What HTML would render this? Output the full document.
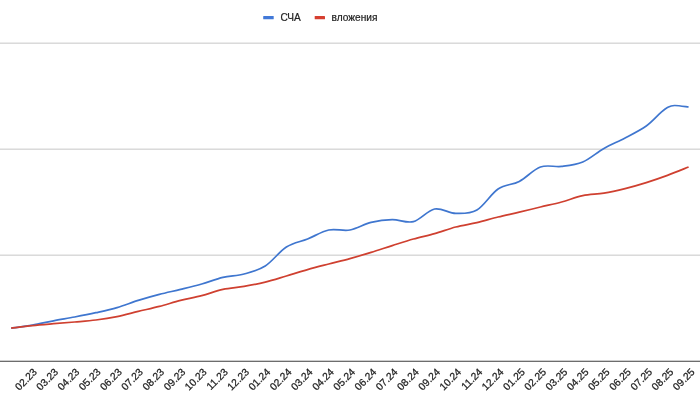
<!DOCTYPE html>
<html><head><meta charset="utf-8"><title>chart</title>
<style>
html,body{margin:0;padding:0;background:#fff;}
body{width:700px;height:402px;overflow:hidden;}
svg{display:block;will-change:transform;font-family:"Liberation Sans",Arial,sans-serif;font-size:10px;fill:#222;}
</style></head><body>
<svg width="700" height="402" viewBox="0 0 700 402">
<rect width="700" height="402" fill="#fff"/>
<g stroke="#c6c6c6" stroke-width="1">
<line x1="0" y1="43.15" x2="700" y2="43.15"/>
<line x1="0" y1="149.15" x2="700" y2="149.15"/>
<line x1="0" y1="255.15" x2="700" y2="255.15"/>
</g>
<line x1="0" y1="361.3" x2="700" y2="361.3" stroke="#3c3c3c" stroke-width="1.1"/>
<path d="M11.20 328.20 C14.73 327.68 25.31 326.33 32.37 325.10 C39.42 323.87 46.48 322.15 53.54 320.80 C60.59 319.45 67.65 318.35 74.71 317.00 C81.76 315.65 88.82 314.27 95.88 312.70 C102.93 311.13 109.99 309.65 117.04 307.60 C124.10 305.55 131.16 302.60 138.21 300.40 C145.27 298.20 152.32 296.23 159.38 294.40 C166.44 292.57 173.49 291.13 180.55 289.40 C187.61 287.67 194.66 286.00 201.72 284.00 C208.77 282.00 215.83 279.07 222.89 277.40 C229.94 275.73 237.00 275.90 244.06 274.00 C251.11 272.10 258.17 270.50 265.22 266.00 C272.28 261.50 279.34 251.50 286.39 247.00 C293.45 242.50 300.51 241.83 307.56 239.00 C314.62 236.17 321.68 231.50 328.73 230.00 C335.79 228.50 342.84 231.27 349.90 230.00 C356.96 228.73 364.01 224.13 371.07 222.40 C378.12 220.67 385.18 219.73 392.24 219.60 C399.29 219.47 406.35 223.37 413.41 221.60 C420.46 219.83 427.52 210.37 434.57 209.00 C441.63 207.63 448.69 213.23 455.74 213.40 C462.80 213.57 469.86 214.07 476.91 210.00 C483.97 205.93 491.02 193.77 498.08 189.00 C505.14 184.23 512.19 185.07 519.25 181.40 C526.31 177.73 533.36 169.50 540.42 167.00 C547.48 164.50 554.53 167.23 561.59 166.40 C568.64 165.57 575.70 165.00 582.76 162.00 C589.81 159.00 596.87 152.40 603.93 148.40 C610.98 144.40 618.04 141.73 625.09 138.00 C632.15 134.27 640.36 130.18 646.26 126.00 C652.16 121.82 656.97 115.97 660.50 112.90 C664.03 109.83 665.10 108.83 667.43 107.60 C669.76 106.37 670.97 105.60 674.50 105.50 C678.03 105.40 686.25 106.75 688.60 107.00" fill="none" stroke="#3f76cf" stroke-width="1.7" stroke-linecap="butt" stroke-linejoin="round"/>
<path d="M11.20 328.20 C14.73 327.77 25.31 326.35 32.37 325.60 C39.42 324.85 46.48 324.30 53.54 323.70 C60.59 323.10 67.65 322.62 74.71 322.00 C81.76 321.38 88.82 320.90 95.88 320.00 C102.93 319.10 109.99 318.03 117.04 316.60 C124.10 315.17 131.16 313.10 138.21 311.40 C145.27 309.70 152.32 308.23 159.38 306.40 C166.44 304.57 173.49 302.20 180.55 300.40 C187.61 298.60 194.66 297.43 201.72 295.60 C208.77 293.77 215.83 290.93 222.89 289.40 C229.94 287.87 237.00 287.60 244.06 286.40 C251.11 285.20 258.17 283.93 265.22 282.20 C272.28 280.47 279.34 278.10 286.39 276.00 C293.45 273.90 300.51 271.60 307.56 269.60 C314.62 267.60 321.68 265.83 328.73 264.00 C335.79 262.17 342.84 260.53 349.90 258.60 C356.96 256.67 364.01 254.57 371.07 252.40 C378.12 250.23 385.18 247.83 392.24 245.60 C399.29 243.37 406.35 241.00 413.41 239.00 C420.46 237.00 427.52 235.60 434.57 233.60 C441.63 231.60 448.69 228.83 455.74 227.00 C462.80 225.17 469.86 224.27 476.91 222.60 C483.97 220.93 491.02 218.73 498.08 217.00 C505.14 215.27 512.19 213.87 519.25 212.20 C526.31 210.53 533.36 208.70 540.42 207.00 C547.48 205.30 554.53 203.90 561.59 202.00 C568.64 200.10 575.70 197.07 582.76 195.60 C589.81 194.13 596.87 194.37 603.93 193.20 C610.98 192.03 618.04 190.37 625.09 188.60 C632.15 186.83 639.21 184.80 646.26 182.60 C653.32 180.40 660.38 178.00 667.43 175.40 C674.49 172.80 685.07 168.40 688.60 167.00" fill="none" stroke="#cf4030" stroke-width="1.7" stroke-linecap="butt" stroke-linejoin="round"/>
<rect x="263.2" y="16.0" width="10.5" height="3.3" rx="0.6" fill="#4279d8"/>
<text x="280.4" y="21" font-size="10.15" stroke="#222" stroke-width="0.2">СЧА</text>
<rect x="314.7" y="16.0" width="10.3" height="3.3" rx="0.6" fill="#d63f30"/>
<text x="331.6" y="21" font-size="10.15" stroke="#222" stroke-width="0.2">вложения</text>
<g font-size="10.3" stroke="#222" stroke-width="0.25">
<text transform="translate(37.60 372.70) rotate(-45)" text-anchor="end">02.23</text>
<text transform="translate(58.82 372.70) rotate(-45)" text-anchor="end">03.23</text>
<text transform="translate(80.03 372.70) rotate(-45)" text-anchor="end">04.23</text>
<text transform="translate(101.25 372.70) rotate(-45)" text-anchor="end">05.23</text>
<text transform="translate(122.46 372.70) rotate(-45)" text-anchor="end">06.23</text>
<text transform="translate(143.68 372.70) rotate(-45)" text-anchor="end">07.23</text>
<text transform="translate(164.90 372.70) rotate(-45)" text-anchor="end">08.23</text>
<text transform="translate(186.11 372.70) rotate(-45)" text-anchor="end">09.23</text>
<text transform="translate(207.33 372.70) rotate(-45)" text-anchor="end">10.23</text>
<text transform="translate(228.54 372.70) rotate(-45)" text-anchor="end">11.23</text>
<text transform="translate(249.76 372.70) rotate(-45)" text-anchor="end">12.23</text>
<text transform="translate(270.98 372.70) rotate(-45)" text-anchor="end">01.24</text>
<text transform="translate(292.19 372.70) rotate(-45)" text-anchor="end">02.24</text>
<text transform="translate(313.41 372.70) rotate(-45)" text-anchor="end">03.24</text>
<text transform="translate(334.62 372.70) rotate(-45)" text-anchor="end">04.24</text>
<text transform="translate(355.84 372.70) rotate(-45)" text-anchor="end">05.24</text>
<text transform="translate(377.06 372.70) rotate(-45)" text-anchor="end">06.24</text>
<text transform="translate(398.27 372.70) rotate(-45)" text-anchor="end">07.24</text>
<text transform="translate(419.49 372.70) rotate(-45)" text-anchor="end">08.24</text>
<text transform="translate(440.70 372.70) rotate(-45)" text-anchor="end">09.24</text>
<text transform="translate(461.92 372.70) rotate(-45)" text-anchor="end">10.24</text>
<text transform="translate(483.14 372.70) rotate(-45)" text-anchor="end">11.24</text>
<text transform="translate(504.35 372.70) rotate(-45)" text-anchor="end">12.24</text>
<text transform="translate(525.57 372.70) rotate(-45)" text-anchor="end">01.25</text>
<text transform="translate(546.78 372.70) rotate(-45)" text-anchor="end">02.25</text>
<text transform="translate(568.00 372.70) rotate(-45)" text-anchor="end">03.25</text>
<text transform="translate(589.22 372.70) rotate(-45)" text-anchor="end">04.25</text>
<text transform="translate(610.43 372.70) rotate(-45)" text-anchor="end">05.25</text>
<text transform="translate(631.65 372.70) rotate(-45)" text-anchor="end">06.25</text>
<text transform="translate(652.86 372.70) rotate(-45)" text-anchor="end">07.25</text>
<text transform="translate(674.08 372.70) rotate(-45)" text-anchor="end">08.25</text>
<text transform="translate(695.30 372.70) rotate(-45)" text-anchor="end">09.25</text>
</g>
</svg>
</body></html>
